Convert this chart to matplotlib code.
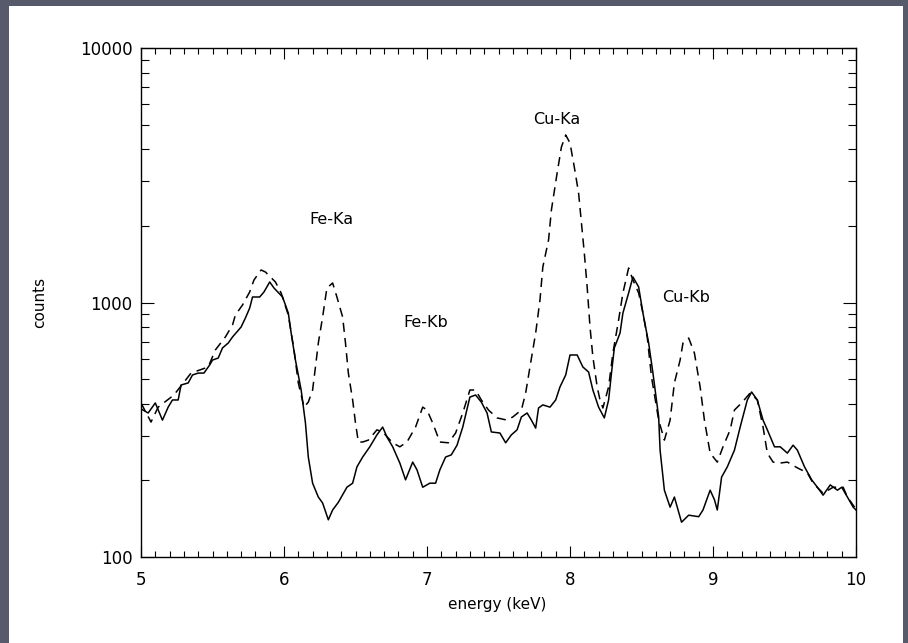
#!/usr/bin/env python3
"""X-ray spectrum: counts vs energy, two runs (solid / dashed), log y."""

import matplotlib
matplotlib.use("Agg")
import matplotlib.pyplot as plt
from matplotlib.patches import Rectangle
from matplotlib.ticker import MultipleLocator, LogLocator, NullFormatter, FixedFormatter, FixedLocator

# solid spectrum
energy_solid = [5.00, 5.05, 5.10, 5.15, 5.19, 5.22, 5.26, 5.28, 5.33, 5.36, 5.40, 5.44, 5.48, 5.50,
                5.54, 5.57, 5.61, 5.64, 5.70, 5.73, 5.76, 5.78, 5.83, 5.86, 5.90, 5.93, 5.99, 6.03,
                6.05, 6.08, 6.12, 6.15, 6.17, 6.20, 6.24, 6.27, 6.31, 6.34, 6.38, 6.44, 6.48, 6.51,
                6.55, 6.60, 6.65, 6.69, 6.72, 6.76, 6.81, 6.85, 6.90, 6.93, 6.97, 7.02, 7.06, 7.09,
                7.13, 7.17, 7.21, 7.25, 7.30, 7.34, 7.38, 7.42, 7.45, 7.51, 7.55, 7.59, 7.63, 7.66,
                7.70, 7.73, 7.76, 7.78, 7.81, 7.86, 7.90, 7.93, 7.97, 8.00, 8.05, 8.09, 8.13, 8.16,
                8.20, 8.24, 8.27, 8.29, 8.31, 8.35, 8.37, 8.41, 8.44, 8.48, 8.51, 8.55, 8.58, 8.62,
                8.63, 8.66, 8.70, 8.73, 8.78, 8.83, 8.90, 8.93, 8.98, 9.01, 9.03, 9.06, 9.10, 9.15,
                9.19, 9.24, 9.27, 9.31, 9.35, 9.38, 9.43, 9.47, 9.52, 9.56, 9.59, 9.64, 9.69, 9.73,
                9.77, 9.82, 9.87, 9.90, 9.94, 9.98, 10.00]
counts_solid = [382, 368, 403, 345, 388, 414, 414, 474, 483, 519, 528, 528, 568, 594,
                605, 663, 693, 732, 801, 869, 951, 1051, 1051, 1100, 1204, 1140, 1051, 909,
                759, 594, 453, 336, 247, 195, 172, 163, 140, 153, 164, 188, 195, 226,
                247, 271, 302, 324, 296, 271, 234, 201, 236, 220, 188, 195, 195, 220,
                247, 252, 275, 324, 425, 433, 406, 368, 310, 307, 281, 302, 316, 355,
                368, 345, 321, 385, 396, 388, 414, 466, 519, 622, 622, 558, 533, 453,
                388, 352, 414, 528, 663, 759, 909, 1090, 1260, 1151, 909, 693, 528, 355,
                263, 183, 157, 172, 137, 146, 144, 153, 183, 168, 153, 206, 226, 263,
                324, 414, 445, 414, 345, 316, 271, 271, 256, 275, 263, 226, 201, 188,
                175, 192, 183, 188, 172, 157, 153]

# dashed spectrum
energy_dash = [5.00, 5.07, 5.12, 5.23, 5.35, 5.47, 5.52, 5.59, 5.64, 5.66, 5.71, 5.76, 5.79, 5.84,
               5.87, 5.94, 5.98, 6.03, 6.07, 6.10, 6.14, 6.17, 6.20, 6.22, 6.24, 6.27, 6.30, 6.34,
               6.37, 6.41, 6.43, 6.45, 6.48, 6.50, 6.52, 6.55, 6.59, 6.65, 6.69, 6.76, 6.81, 6.86,
               6.92, 6.97, 7.00, 7.04, 7.09, 7.15, 7.20, 7.25, 7.30, 7.34, 7.38, 7.43, 7.49, 7.56,
               7.60, 7.66, 7.69, 7.72, 7.76, 7.79, 7.81, 7.85, 7.87, 7.91, 7.94, 7.97, 8.00, 8.03,
               8.06, 8.08, 8.10, 8.12, 8.14, 8.16, 8.19, 8.21, 8.23, 8.27, 8.30, 8.34, 8.37, 8.41,
               8.44, 8.48, 8.51, 8.54, 8.57, 8.62, 8.66, 8.70, 8.73, 8.77, 8.79, 8.83, 8.87, 8.91,
               8.94, 8.98, 9.03, 9.07, 9.12, 9.15, 9.20, 9.26, 9.31, 9.35, 9.38, 9.42, 9.47, 9.52,
               9.59, 9.66, 9.70, 9.77, 9.84, 9.91, 9.94, 9.99]
counts_dash = [403, 339, 388, 433, 528, 558, 651, 732, 816, 893, 978, 1100, 1226, 1342,
               1318, 1204, 1090, 893, 651, 483, 388, 406, 453, 558, 693, 877, 1140, 1193,
               1051, 877, 693, 528, 414, 336, 283, 283, 288, 316, 310, 281, 271, 283,
               324, 388, 378, 336, 283, 281, 307, 368, 453, 453, 414, 378, 352, 345,
               355, 378, 441, 558, 759, 1023, 1379, 1760, 2310, 3228, 4083, 4551, 4233, 3407,
               2694, 2053, 1565, 1151, 801, 611, 466, 414, 385, 466, 633, 854, 1090, 1366,
               1226, 1090, 909, 732, 510, 345, 288, 345, 483, 594, 693, 725, 633, 466,
               345, 256, 236, 271, 316, 378, 403, 441, 414, 324, 256, 236, 234, 236,
               224, 214, 195, 178, 188, 188, 172, 157]

line_labels = ["Fe-Ka", "Fe-Kb", "Cu-Ka", "Cu-Kb"]
label_energy = [6.33, 6.99, 7.91, 8.81]
label_counts = [2110, 831, 5214, 1042]

W, H = 908, 643
fig = plt.figure(figsize=(W / 100, H / 100), dpi=100, facecolor="#565a6a")
fig.patches.append(Rectangle((9 / W, 0), (903 - 9) / W, (H - 6) / H,
                             transform=fig.transFigure, facecolor="white",
                             edgecolor="none", zorder=-10))

ax = fig.add_axes([141 / W, (H - 557) / H, (856 - 141) / W, (557 - 48) / H])
ax.set_facecolor("white")

ax.plot(energy_solid, counts_solid, color="black", linewidth=1.1)
ax.plot(energy_dash, counts_dash, color="black", linewidth=1.1, dashes=(6, 4))

for txt, e, c in zip(line_labels, label_energy, label_counts):
    ax.text(e, c, txt, ha="center", va="center", fontsize=11.5)

ax.set_xlim(5, 10)
ax.set_yscale("log")
ax.set_ylim(100, 10000)

ax.xaxis.set_major_locator(MultipleLocator(1))
ax.xaxis.set_minor_locator(MultipleLocator(0.1))
ax.yaxis.set_major_locator(FixedLocator([100, 1000, 10000]))
ax.yaxis.set_major_formatter(FixedFormatter(["100", "1000", "10000"]))
ax.yaxis.set_minor_locator(LogLocator(base=10, subs=range(2, 10)))
ax.yaxis.set_minor_formatter(NullFormatter())

ax.tick_params(axis="x", which="major", direction="in", length=8, width=0.8,
               top=True, bottom=True, labelsize=12, pad=10)
ax.tick_params(axis="x", which="minor", direction="in", length=4.3, width=0.8,
               top=True, bottom=True)
ax.tick_params(axis="y", which="major", direction="in", length=9.5, width=0.8,
               left=True, right=True, labelsize=12, pad=6)
ax.tick_params(axis="y", which="minor", direction="in", length=5.8, width=0.8,
               left=True, right=True)
for s in ax.spines.values():
    s.set_linewidth(1.0)

fig.text(40 / W, 1 - 302 / H, "counts", rotation=90, ha="center", va="center", fontsize=11)
fig.text(497 / W, 1 - 605 / H, "energy (keV)", ha="center", va="center", fontsize=11)

fig.savefig("out.png", dpi=100, facecolor=fig.get_facecolor())
